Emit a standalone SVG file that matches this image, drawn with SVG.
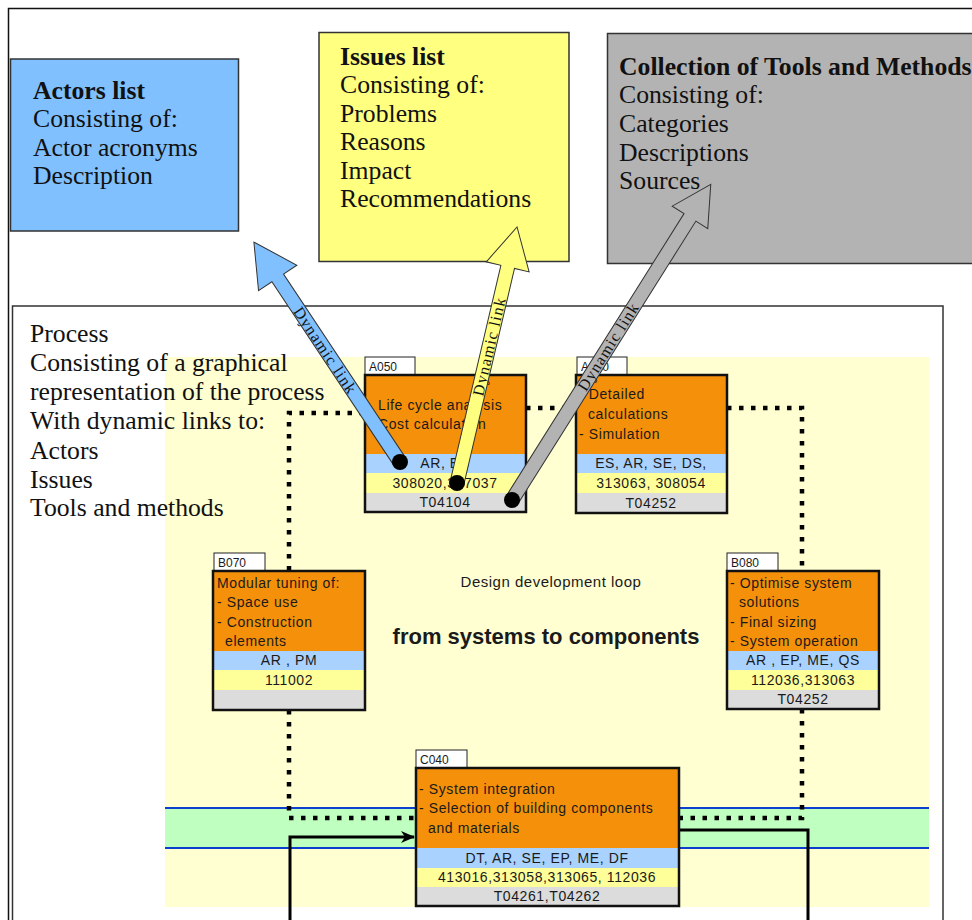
<svg xmlns="http://www.w3.org/2000/svg" width="972" height="920" viewBox="0 0 972 920">
<defs>
<style>
.serif{font-family:"Liberation Serif","Times New Roman",serif;fill:#111}
.big{font-size:25.7px}
.bold{font-weight:bold}
.sans{font-family:"Liberation Sans",Arial,sans-serif;fill:#1a1a1a}
.nt{font-size:14px;letter-spacing:0.6px}
.tag{font-size:12px}
.box{stroke:#111;stroke-width:2.5}
.tagbox{fill:#fff;stroke:#222;stroke-width:1}
.dot{fill:none;stroke:#000;stroke-width:4.5;stroke-dasharray:4.5 7.5}
.solid{fill:none;stroke:#000;stroke-width:3}
.arr{stroke:#333;stroke-width:1}
.dl{font-family:"Liberation Serif","Times New Roman",serif;font-size:16px;fill:#111}
</style>
<marker id="ah" viewBox="0 0 14 12" refX="13" refY="6" markerWidth="14" markerHeight="12" markerUnits="userSpaceOnUse" orient="auto">
<path d="M0,0 L14,6 L0,12 L4,6 Z" fill="#000"/>
</marker>
</defs>
<rect width="972" height="920" fill="#fff"/>
<rect x="8.5" y="8.5" width="1000" height="1000" fill="none" stroke="#111" stroke-width="1.5"/>

<g id="actors-list">
<rect x="10.5" y="59" width="228" height="172" fill="#80c0ff" stroke="#333" stroke-width="1.5"/>
<text class="serif big bold" x="33" y="99">Actors list</text>
<text class="serif big" x="33" y="127">Consisting of:</text>
<text class="serif big" x="33" y="156">Actor acronyms</text>
<text class="serif big" x="33" y="184">Description</text>
</g>
<g id="issues-list">
<rect x="319" y="32.5" width="250" height="229" fill="#ffff80" stroke="#333" stroke-width="1.5"/>
<text class="serif big bold" x="340" y="65">Issues list</text>
<text class="serif big" x="340" y="93">Consisting of:</text>
<text class="serif big" x="340" y="122">Problems</text>
<text class="serif big" x="340" y="150">Reasons</text>
<text class="serif big" x="340" y="179">Impact</text>
<text class="serif big" x="340" y="207">Recommendations</text>
</g>
<g id="tools-methods">
<rect x="607.5" y="33.5" width="400" height="230" fill="#b3b3b3" stroke="#333" stroke-width="1.5"/>
<text class="serif big bold" x="619" y="75">Collection of Tools and Methods</text>
<text class="serif big" x="619" y="103">Consisting of:</text>
<text class="serif big" x="619" y="132">Categories</text>
<text class="serif big" x="619" y="161">Descriptions</text>
<text class="serif big" x="619" y="189">Sources</text>
</g>

<g id="process">
<rect x="12.5" y="306" width="930.5" height="700" fill="#fff" stroke="#333" stroke-width="1.5"/>
<rect x="165" y="357" width="764" height="550" fill="#ffffd2"/>
<rect x="165" y="808" width="764" height="40" fill="#bfffbf"/>
<line x1="165" y1="808" x2="929" y2="808" stroke="#0a3fd0" stroke-width="2"/>
<line x1="165" y1="848" x2="929" y2="848" stroke="#0a3fd0" stroke-width="2"/>
<text class="serif big" x="30" y="342">Process</text>
<text class="serif big" x="30" y="371">Consisting of a graphical</text>
<text class="serif big" x="30" y="400">representation of the process</text>
<text class="serif big" x="30" y="429">With dynamic links to:</text>
<text class="serif big" x="30" y="459">Actors</text>
<text class="serif big" x="30" y="488">Issues</text>
<text class="serif big" x="30" y="516">Tools and methods</text>
<text class="sans" x="551" y="587" font-size="15" letter-spacing="0.5" text-anchor="middle">Design development loop</text>
<text class="sans" x="546" y="644" font-size="22" font-weight="bold" text-anchor="middle">from systems to components</text>
</g>

<g id="connectors">
<path class="dot" d="M364,413 H289 V571"/>
<path class="dot" d="M289,710 V818 H416"/>
<path class="dot" d="M526,408 H576"/>
<path class="dot" d="M727,408 H802 V571"/>
<path class="dot" d="M802,709 V818 H679"/>
<path class="solid" d="M290,920 V837 H414" marker-end="url(#ah)"/>
<path class="solid" d="M679,830 H808 V920"/>
</g>

<g id="A050">
<rect class="tagbox" x="365" y="357" width="50" height="18"/>
<text class="sans tag" x="369" y="371">A050</text>
<rect x="365" y="375" width="161" height="79" fill="#f5900a"/>
<rect x="365" y="454" width="161" height="19" fill="#aad2ff"/>
<rect x="365" y="473" width="161" height="20" fill="#ffff99"/>
<rect x="365" y="493" width="161" height="19" fill="#dcdcdc"/>
<rect class="box" x="365" y="375" width="161" height="137" fill="none"/>
<text class="sans nt" x="378" y="410">Life cycle analysis</text>
<text class="sans nt" x="378" y="429">Cost calculation</text>
<text class="sans nt" x="445" y="468" text-anchor="middle">AR, ES</text>
<text class="sans nt" x="445" y="488" text-anchor="middle">308020,307037</text>
<text class="sans nt" x="445" y="507" text-anchor="middle">T04104</text>
</g>

<g id="A060">
<rect class="tagbox" x="577" y="357" width="50" height="18"/>
<text class="sans tag" x="581" y="371">A060</text>
<rect x="576" y="375" width="151" height="79" fill="#f5900a"/>
<rect x="576" y="454" width="151" height="19" fill="#aad2ff"/>
<rect x="576" y="473" width="151" height="20" fill="#ffff99"/>
<rect x="576" y="493" width="151" height="20" fill="#dcdcdc"/>
<rect class="box" x="576" y="375" width="151" height="138" fill="none"/>
<text class="sans nt" x="579" y="399">- Detailed</text>
<text class="sans nt" x="588" y="419">calculations</text>
<text class="sans nt" x="579" y="439">- Simulation</text>
<text class="sans nt" x="651" y="468" text-anchor="middle">ES, AR, SE, DS,</text>
<text class="sans nt" x="651" y="488" text-anchor="middle">313063, 308054</text>
<text class="sans nt" x="651" y="508" text-anchor="middle">T04252</text>
</g>

<g id="B070">
<rect class="tagbox" x="214" y="553" width="51" height="18"/>
<text class="sans tag" x="218" y="567">B070</text>
<rect x="213" y="571" width="152" height="80" fill="#f5900a"/>
<rect x="213" y="651" width="152" height="19" fill="#aad2ff"/>
<rect x="213" y="670" width="152" height="20" fill="#ffff99"/>
<rect x="213" y="690" width="152" height="20" fill="#dcdcdc"/>
<rect class="box" x="213" y="571" width="152" height="139" fill="none"/>
<text class="sans nt" x="217" y="588">Modular tuning of:</text>
<text class="sans nt" x="217" y="607">- Space use</text>
<text class="sans nt" x="217" y="627">- Construction</text>
<text class="sans nt" x="225" y="646">elements</text>
<text class="sans nt" x="289" y="665" text-anchor="middle">AR , PM</text>
<text class="sans nt" x="289" y="685" text-anchor="middle">111002</text>
</g>

<g id="B080">
<rect class="tagbox" x="727" y="553" width="51" height="18"/>
<text class="sans tag" x="731" y="567">B080</text>
<rect x="727" y="571" width="152" height="80" fill="#f5900a"/>
<rect x="727" y="651" width="152" height="19" fill="#aad2ff"/>
<rect x="727" y="670" width="152" height="20" fill="#ffff99"/>
<rect x="727" y="690" width="152" height="19" fill="#dcdcdc"/>
<rect class="box" x="727" y="571" width="152" height="138" fill="none"/>
<text class="sans nt" x="730" y="588">- Optimise system</text>
<text class="sans nt" x="739" y="607">solutions</text>
<text class="sans nt" x="730" y="627">- Final sizing</text>
<text class="sans nt" x="730" y="646">- System operation</text>
<text class="sans nt" x="803" y="665" text-anchor="middle">AR , EP, ME, QS</text>
<text class="sans nt" x="803" y="685" text-anchor="middle">112036,313063</text>
<text class="sans nt" x="803" y="704" text-anchor="middle">T04252</text>
</g>

<g id="C040">
<rect class="tagbox" x="416" y="750" width="51" height="18"/>
<text class="sans tag" x="420" y="764">C040</text>
<rect x="416" y="768" width="263" height="80" fill="#f5900a"/>
<rect x="416" y="848" width="263" height="20" fill="#aad2ff"/>
<rect x="416" y="868" width="263" height="19" fill="#ffff99"/>
<rect x="416" y="887" width="263" height="19" fill="#dcdcdc"/>
<rect class="box" x="416" y="768" width="263" height="138" fill="none"/>
<text class="sans nt" x="419" y="794">- System integration</text>
<text class="sans nt" x="419" y="813">- Selection of building components</text>
<text class="sans nt" x="428" y="833">and materials</text>
<text class="sans nt" x="547" y="863" text-anchor="middle">DT, AR, SE, EP, ME, DF</text>
<text class="sans nt" x="547" y="882" text-anchor="middle">413016,313058,313065, 112036</text>
<text class="sans nt" x="547" y="901" text-anchor="middle">T04261,T04262</text>
</g>

<g id="dynamic-links">
<g transform="translate(400,462) rotate(-123.6)">
<polygon class="arr" fill="#80c0ff" points="0,-7 221,-7 221,-23 264,0 221,23 221,7 0,7"/>
</g>
<text class="dl" transform="translate(325,350) rotate(56.4)" text-anchor="middle" dominant-baseline="central" textLength="100">Dynamic link</text>
<g transform="translate(457,483) rotate(-76.8)">
<polygon class="arr" fill="#ffff80" points="0,-7 222,-7 222,-22 263,0 222,22 222,7 0,7"/>
</g>
<text class="dl" transform="translate(489,347) rotate(-76.8)" text-anchor="middle" dominant-baseline="central" textLength="100">Dynamic link</text>
<g transform="translate(512,500) rotate(-57.8)">
<polygon class="arr" fill="#b3b3b3" points="0,-7 334,-7 334,-21 373,0 334,21 334,7 0,7"/>
</g>
<text class="dl" transform="translate(608,347) rotate(-57.8)" text-anchor="middle" dominant-baseline="central" textLength="100">Dynamic link</text>
<circle cx="400" cy="462" r="8" fill="#000"/>
<circle cx="457" cy="483" r="8" fill="#000"/>
<circle cx="512" cy="500" r="8" fill="#000"/>
</g>
</svg>
